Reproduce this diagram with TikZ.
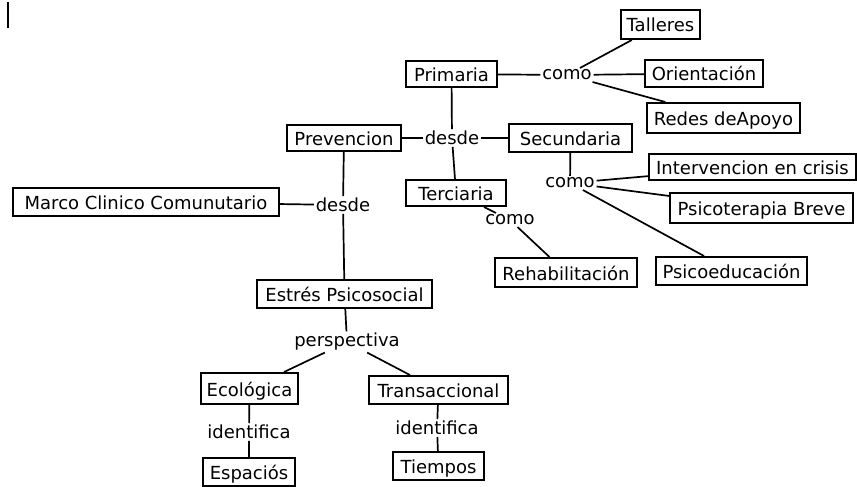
\documentclass[tikz,border=0pt]{standalone}
\usepackage{fontspec}
\setmainfont{DejaVu Sans}
\usetikzlibrary{positioning}

\begin{document}
\begin{tikzpicture}[x=1pt,y=-1pt,line width=1.7pt,font=\fontsize{18}{21}\selectfont,
  box/.style={draw,line width=2pt,inner sep=0pt,text height=16pt,text depth=1pt},
  lbl/.style={inner sep=1pt}]
\useasboundingbox (0,0) rectangle (857,487);
\draw[line width=2pt] (8,2) -- (8,28);

\node[box,minimum width=79pt,minimum height=29pt] (tall) at (660.5,24.5) {Talleres};
\node[box,minimum width=91pt,minimum height=26pt] (prim) at (451.5,74) {Primaria};
\node[lbl] (como1) at (567,75) {como};
\node[box,minimum width=118pt,minimum height=27pt] (orien) at (704,73.5) {Orientación};
\node[box,minimum width=153pt,minimum height=30pt] (redes) at (723.5,118) {Redes deApoyo};
\node[lbl] (desde1) at (452,138) {desde};
\node[box,minimum width=123pt,minimum height=28pt] (secu) at (570.5,138) {Secundaria};
\node[box,minimum width=114pt,minimum height=26pt] (prev) at (344,138) {Prevencion};
\node[box,minimum width=100pt,minimum height=26pt] (terc) at (456,193) {Terciaria};
\node[lbl] (como2) at (570,183) {como};
\node[lbl] (como3) at (510,220) {como};
\node[box,minimum width=207pt,minimum height=26pt] (inter) at (752.5,167) {Intervencion en crisis};
\node[box,minimum width=183pt,minimum height=30pt] (psico) at (761.5,208) {Psicoterapia Breve};
\node[box,minimum width=266pt,minimum height=28pt] (marco) at (146,202) {Marco Clinico Comunutario};
\node[lbl] (desde2) at (343,205) {desde};
\node[box,minimum width=142pt,minimum height=29pt] (rehab) at (566,272.5) {Rehabilitación};
\node[box,minimum width=151pt,minimum height=28pt] (psed) at (731.5,271) {Psicoeducación};
\node[box,minimum width=175pt,minimum height=28pt] (estres) at (344.5,294) {Estrés Psicosocial};
\node[lbl] (persp) at (347,342) {perspectiva};
\node[box,minimum width=97pt,minimum height=31pt] (eco) at (249.5,388.5) {Ecológica};
\node[box,minimum width=139pt,minimum height=28pt] (trans) at (438.5,390) {Transaccional};
\node[lbl] (iden1) at (249,432) {identifica};
\node[lbl] (iden2) at (437,428) {identifica};
\node[box,minimum width=92pt,minimum height=28pt] (espa) at (249,472) {Espaciós};
\node[box,minimum width=91pt,minimum height=28pt] (tiem) at (438.5,466) {Tiempos};

\draw (prim) -- (como1);
\draw (como1) -- (tall);
\draw (como1) -- (orien);
\draw (como1) -- (redes);
\draw (prim) -- (desde1) -- (terc);
\draw (prev) -- (desde1) -- (secu);
\draw (secu) -- (como2);
\draw (como2) -- (inter);
\draw (como2) -- (psico);
\draw (como2) -- (psed);
\draw (terc) -- (como3) -- (rehab);
\draw (prev) -- (desde2) -- (estres);
\draw (marco) -- (desde2);
\draw (estres) -- (persp);
\draw (persp) -- (eco);
\draw (persp) -- (trans);
\draw (eco) -- (iden1) -- (espa);
\draw (trans) -- (iden2) -- (tiem);
\end{tikzpicture}
\end{document}
